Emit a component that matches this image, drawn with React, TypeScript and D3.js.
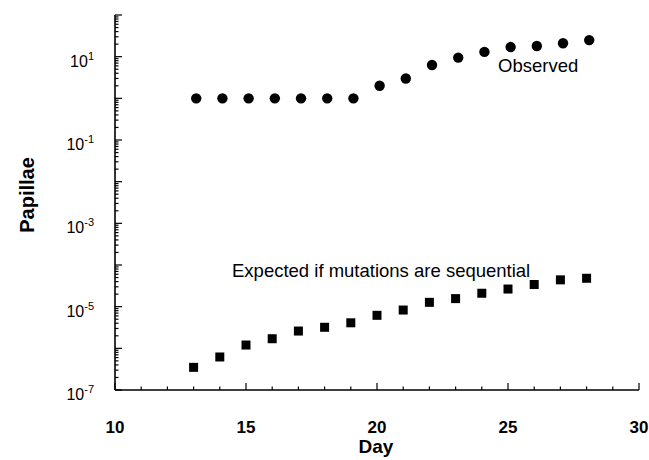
import React from 'react';
import * as d3 from 'd3';

// data
const days = [13, 14, 15, 16, 17, 18, 19, 20, 21, 22, 23, 24, 25, 26, 27, 28];
const observedDays = [13.1, 14.1, 15.1, 16.1, 17.1, 18.1, 19.1, 20.1, 21.1, 22.1, 23.1, 24.1, 25.1, 26.1, 27.1, 28.1];
const observed = [1, 1, 1, 1, 1, 1, 1, 2, 3, 6.3, 9.5, 13, 17, 18, 21, 25];
const expected = [
  3.5e-7, 6.2e-7, 1.2e-6, 1.7e-6, 2.6e-6, 3.2e-6, 4.1e-6, 6.2e-6,
  8.3e-6, 1.27e-5, 1.56e-5, 2.1e-5, 2.65e-5, 3.4e-5, 4.4e-5, 4.8e-5,
];
const xTicks = [10, 15, 20, 25, 30];
const yLabelExponents = [1, -1, -3, -5, -7];

const W = 649;
const H = 460;
const FONT = '"Liberation Sans", Arial, Helvetica, sans-serif';

export default function App() {
  const x = d3.scaleLinear().domain([10, 30]).range([115, 639]);
  const y = d3.scaleLog().domain([1e-7, 1e2]).range([390, 15]);

  // axis tick positions (decades and 2..9 minors)
  const decades = d3.range(-7, 3).map((e) => Math.pow(10, e));
  const minors: number[] = [];
  d3.range(-7, 2).forEach((e) => {
    d3.range(2, 10).forEach((k) => minors.push(k * Math.pow(10, e)));
  });
  const xMinor = d3.range(10, 31);

  return (
    <svg width={W} height={H} style={{ position: 'absolute', left: 0, top: 0, background: '#fff' }} fontFamily={FONT}>
      {/* axes */}
      <g stroke="#000" strokeWidth={1.6} fill="none">
        <line x1={x(10)} x2={x(10)} y1={y(1e2)} y2={y(1e-7)} />
        <line x1={x(10)} x2={x(30)} y1={y(1e-7)} y2={y(1e-7)} />
      </g>
      <g stroke="#000" strokeWidth={1.2}>
        {decades.map((v) => (
          <line key={'d' + v} x1={x(10)} x2={x(10) + 7} y1={y(v)} y2={y(v)} />
        ))}
        {minors.map((v) => (
          <line key={'m' + v} x1={x(10)} x2={x(10) + 3.5} y1={y(v)} y2={y(v)} />
        ))}
        {xMinor.map((d) => (
          <line
            key={'x' + d}
            x1={x(d)}
            x2={x(d)}
            y1={y(1e-7)}
            y2={y(1e-7) - (d % 5 === 0 ? 7 : 3.5)}
          />
        ))}
      </g>

      {/* y tick labels */}
      {yLabelExponents.map((e) => (
        <text key={'yl' + e} x={94} y={y(Math.pow(10, e)) + 10} textAnchor="end" fontSize={16} fill="#000">
          <tspan>10</tspan>
          <tspan dy={-7} fontSize={11}>{e}</tspan>
        </text>
      ))}

      {/* x tick labels */}
      {xTicks.map((d) => (
        <text key={'xl' + d} x={x(d)} y={433} textAnchor="middle" fontSize={17} fontWeight="bold" fill="#000">
          {d}
        </text>
      ))}

      {/* axis titles */}
      <text x={376} y={453} textAnchor="middle" fontSize={19} fontWeight="bold">Day</text>
      <text
        transform={`translate(34, 195) rotate(-90)`}
        textAnchor="middle"
        fontSize={20}
        fontWeight="bold"
      >
        Papillae
      </text>

      {/* observed */}
      {observed.map((v, i) => (
        <circle key={'o' + i} cx={x(observedDays[i])} cy={y(v)} r={5.2} fill="#000" />
      ))}
      {/* expected */}
      {expected.map((v, i) => (
        <rect key={'e' + i} x={x(days[i]) - 4.5} y={y(v) - 4.5} width={9} height={9} fill="#000" />
      ))}

      <text x={498} y={72} fontSize={18.5} fill="#000">Observed</text>
      <text x={232} y={277} fontSize={18.5} fill="#000">Expected if mutations are sequential</text>
    </svg>
  );
}
